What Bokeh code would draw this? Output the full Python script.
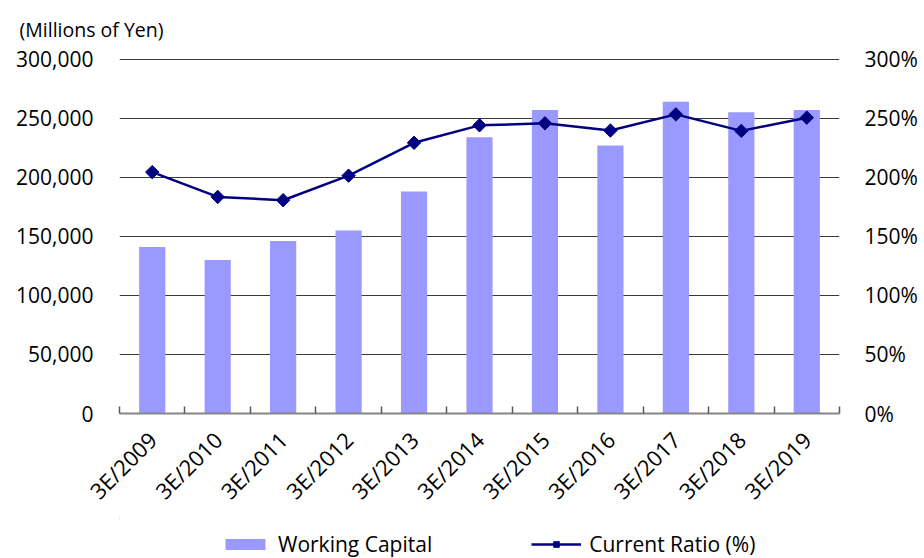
import math
from bokeh.plotting import figure
from bokeh.layouts import column
from bokeh.models import (Range1d, LinearAxis, FixedTicker, NumeralTickFormatter,
                          PrintfTickFormatter, Legend, LegendItem, ColumnDataSource)
from bokeh.embed import file_html
from bokeh.resources import INLINE

fiscal_years = ["3E/2009", "3E/2010", "3E/2011", "3E/2012", "3E/2013", "3E/2014",
                "3E/2015", "3E/2016", "3E/2017", "3E/2018", "3E/2019"]
working_capital = [141000, 130000, 146000, 155000, 188000, 234000,
                   257000, 227000, 264000, 255000, 257000]
current_ratio = [204.4, 183.4, 180.6, 201.4, 229.2, 244.0,
                 245.7, 239.6, 253.3, 239.3, 250.5]
left_ticks = [0, 50000, 100000, 150000, 200000, 250000, 300000]
right_ticks = [0, 50, 100, 150, 200, 250, 300]
series_names = ["Working Capital", "Current Ratio (%)"]

FONT = "Open Sans"
BAR_COLOR = "#9999FF"
LINE_COLOR = "#000080"
n = len(fiscal_years)
idx = list(range(n))
source = ColumnDataSource(dict(x=idx, wc=working_capital, cr=current_ratio))
pad = 1.002  # tiny headroom so the top gridline is not clipped

p = figure(width=924, height=518, output_backend="svg", toolbar_location=None,
           x_range=Range1d(-0.5, n - 0.5),
           y_range=Range1d(left_ticks[0], left_ticks[-1] * pad),
           min_border_left=119, min_border_right=85, min_border_top=58, min_border_bottom=104,
           outline_line_color=None, background_fill_color="white", border_fill_color="white")
p.extra_y_ranges = {"pct": Range1d(right_ticks[0], right_ticks[-1] * pad)}

p.title.text = "(Millions of Yen)"
p.title.align = "left"
p.title.vertical_align = "top"
p.title.offset = -100
p.title.text_font = FONT
p.title.text_font_size = "19.5px"
p.title.text_font_style = "normal"
p.title.text_color = "black"
p.title.standoff = 28

# x axis
xa = p.xaxis[0]
xa.ticker = FixedTicker(ticks=idx, minor_ticks=[i - 0.5 for i in range(n + 1)])
xa.major_label_overrides = {i: lab for i, lab in enumerate(fiscal_years)}
xa.major_label_orientation = math.pi / 4
xa.major_tick_in = 0
xa.major_tick_out = 0
xa.major_tick_line_color = None
xa.minor_tick_in = 7
xa.minor_tick_out = 0
xa.minor_tick_line_color = "#595959"
xa.minor_tick_line_width = 1.5
xa.axis_line_color = "#868686"
xa.axis_line_width = 2
xa.major_label_standoff = 22
xa.major_label_text_font = FONT
xa.major_label_text_font_size = "22px"
xa.major_label_text_color = "black"

# left axis
ya = p.yaxis[0]
ya.ticker = FixedTicker(ticks=left_ticks)
ya.formatter = NumeralTickFormatter(format="0,0")
ya.axis_line_color = None
ya.major_tick_line_color = None
ya.minor_tick_line_color = None
ya.major_tick_in = 0
ya.major_tick_out = 0
ya.major_label_standoff = 26
ya.major_label_text_font = FONT
ya.major_label_text_font_size = "21px"
ya.major_label_text_color = "black"

# right axis
ra = LinearAxis(y_range_name="pct", ticker=FixedTicker(ticks=right_ticks),
                formatter=PrintfTickFormatter(format="%d%%"))
ra.axis_line_color = None
ra.major_tick_line_color = None
ra.minor_tick_line_color = None
ra.major_tick_in = 0
ra.major_tick_out = 0
ra.major_label_standoff = 25
ra.major_label_text_font = FONT
ra.major_label_text_font_size = "21px"
ra.major_label_text_color = "black"
p.add_layout(ra, "right")

p.xgrid.visible = False
p.ygrid.grid_line_color = "#3a3a3a"
p.ygrid.grid_line_width = 1

p.vbar(x="x", top="wc", bottom=0, width=0.4, source=source,
       fill_color=BAR_COLOR, line_color=None)
p.line(x="x", y="cr", source=source, y_range_name="pct",
       line_color=LINE_COLOR, line_width=2.5)
p.scatter(x="x", y="cr", source=source, y_range_name="pct", marker="square",
          angle=math.pi / 4, size=9.5, fill_color=LINE_COLOR, line_color=LINE_COLOR)

# legend strip: a small figure below the chart whose glyphs lie outside its view,
# so only the legend is visible
lg = figure(width=924, height=40, output_backend="svg", toolbar_location=None,
            x_axis_type=None, y_axis_type=None, min_border=0,
            outline_line_color=None, background_fill_color="white", border_fill_color="white",
            x_range=Range1d(n + 1, n + 2), y_range=Range1d(-600000, -300000))
lb = lg.vbar(x="x", top="wc", width=0.4, source=source, fill_color=BAR_COLOR, line_color=None)
ll = lg.line(x="x", y="cr", source=source, line_color=LINE_COLOR, line_width=2.5)
ls = lg.scatter(x="x", y="cr", source=source, marker="square", angle=math.pi / 4, size=11,
                fill_color=LINE_COLOR, line_color=LINE_COLOR)
legend = Legend(items=[LegendItem(label=series_names[0], renderers=[lb]),
                       LegendItem(label=series_names[1], renderers=[ll, ls])],
                location=(101, 0), orientation="horizontal", glyph_width=50, glyph_height=14,
                label_standoff=8, spacing=99, padding=0, margin=0, border_line_color=None,
                background_fill_alpha=0, label_text_font=FONT, label_text_font_size="21px",
                label_text_color="black")
lg.add_layout(legend)

open("out.html", "w").write(file_html(column(p, lg, spacing=0), INLINE))
